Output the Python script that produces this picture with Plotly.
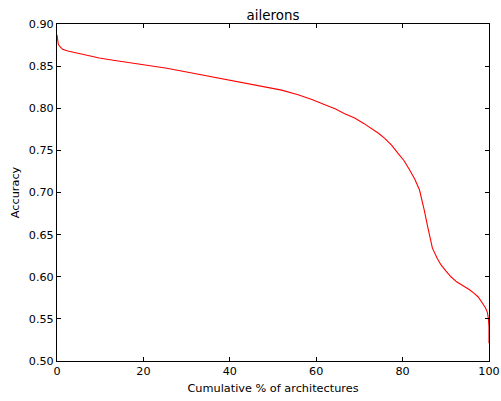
import plotly.graph_objects as go

# Cumulative % of architectures (x) and accuracy (y)
pct = [0, 0.1, 0.3, 0.7, 1.3, 2.5, 4.4, 7, 9.8, 13, 17.5, 21, 25.1, 30, 35.1,
       40.5, 44, 48.2, 52, 55.8, 59, 62, 64.5, 66.6, 68.9, 71, 72.7, 74.5,
       75.8, 77.5, 78.9, 80.3, 81.6, 82.8, 83.9, 84.5, 85.0, 85.8, 86.5, 86.9,
       88.0, 88.9, 90, 91.2, 92.5, 94.2, 95.5, 96.5, 97.5, 98.5, 99.2, 99.6,
       99.85, 100, 100]
accuracy = [0.887, 0.880, 0.876, 0.873, 0.870, 0.868, 0.8656, 0.8625, 0.8596,
            0.857, 0.8537, 0.851, 0.8477, 0.843, 0.838, 0.8327, 0.8295, 0.8259,
            0.8215, 0.816, 0.8105, 0.8042, 0.799, 0.7935, 0.7884, 0.782,
            0.7765, 0.770, 0.7646, 0.756, 0.7468, 0.738, 0.727, 0.716, 0.7032,
            0.692, 0.6794, 0.6596, 0.643, 0.634, 0.622, 0.614, 0.607, 0.600,
            0.594, 0.589, 0.5845, 0.5805, 0.576, 0.5686, 0.563, 0.558, 0.551,
            0.540, 0.521]

x_ticks = [0, 20, 40, 60, 80, 100]
y_ticks = [0.50, 0.55, 0.60, 0.65, 0.70, 0.75, 0.80, 0.85, 0.90]

FONT = "DejaVu Sans"

fig = go.Figure()
fig.add_trace(go.Scatter(x=pct, y=accuracy, mode="lines",
                         line=dict(color="#ff0000", width=1.1),
                         showlegend=False, hoverinfo="skip"))

axis_common = dict(showline=True, linecolor="#000000", linewidth=1,
                   mirror="ticks", ticks="inside", ticklen=4, tickwidth=1,
                   tickcolor="#000000", showgrid=False, zeroline=False,
                   ticklabeloverflow="allow",
                   tickfont=dict(family=FONT, size=11.2, color="#000000"))

fig.update_layout(
    width=501, height=401,
    margin=dict(l=57, r=12, t=24, b=40, autoexpand=False),
    paper_bgcolor="#ffffff", plot_bgcolor="#ffffff",
    font=dict(family=FONT, size=11.2, color="#000000"),
    title=dict(text="ailerons", x=0.5, xref="paper", xanchor="center",
               y=1 - 15 / 401, yref="container", yanchor="middle",
               font=dict(family=FONT, size=13.4, color="#000000")),
    xaxis=dict(range=[0, 100], tickvals=x_ticks, ticktext=[str(v) for v in x_ticks],
               title=dict(text="Cumulative % of architectures", standoff=6,
                          font=dict(family=FONT, size=11.3)),
               automargin=False, **axis_common),
    yaxis=dict(range=[0.50, 0.90], tickvals=y_ticks,
               ticktext=[f"{v:.2f}" for v in y_ticks],
               title=dict(text="Accuracy", standoff=6,
                          font=dict(family=FONT, size=11.3)),
               automargin=False, **axis_common),
)

fig.write_html("out.html")
